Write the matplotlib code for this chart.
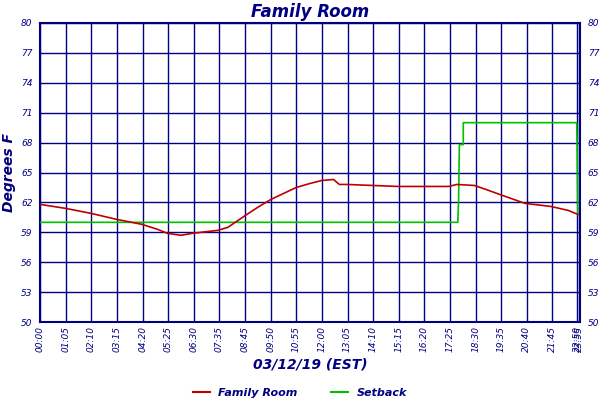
import matplotlib
matplotlib.use('Agg')
import matplotlib.pyplot as plt
from matplotlib.lines import Line2D

navy = '#000080'

# minutes since midnight
temp_t = [0, 65, 130, 195, 260, 300, 325, 360, 390, 455, 480, 525, 560, 590, 655, 690,
          720, 750, 765, 785, 850, 915, 980, 1045, 1065, 1110, 1140, 1175, 1240, 1305, 1350, 1375]
temp_v = [61.8, 61.4, 60.9, 60.3, 59.8, 59.3, 58.9, 58.7, 58.9, 59.2, 59.5, 60.7, 61.6, 62.3,
          63.5, 63.9, 64.2, 64.3, 63.8, 63.8, 63.7, 63.6, 63.6, 63.6, 63.8, 63.7, 63.3, 62.8,
          61.9, 61.6, 61.2, 60.8]

setback_t = [0, 1068, 1070, 1072, 1082, 1082, 1372, 1373, 1375]
setback_v = [60, 60, 62.3, 67.8, 67.8, 70, 70, 67.8, 60.8]

yticks = list(range(50, 81, 3))
xlabels = ['00:00', '01:05', '02:10', '03:15', '04:20', '05:25', '06:30', '07:35', '08:45',
           '09:50', '10:55', '12:00', '13:05', '14:10', '15:15', '16:20', '17:25', '18:30',
           '19:35', '20:40', '21:45', '22:50', '23:55']
xticks = [i * 65.5 for i in range(21)] + [1374, 1379]

fig = plt.figure(figsize=(6, 4), dpi=100)
ax = fig.add_axes([0.067, 0.195, 0.9, 0.7475])

ax.plot(setback_t, setback_v, color='#00c000', lw=1.2, zorder=3)
ax.plot(temp_t, temp_v, color='#c00000', lw=1.2, zorder=4)

ax.set_xlim(0, 1381)
ax.set_ylim(50, 80)
ax.set_yticks(yticks)
ax.set_xticks(xticks)
ax.set_xticklabels(xlabels, rotation=90, fontsize=6.5, style='italic', color=navy)
ax.set_yticklabels([str(v) for v in yticks], fontsize=6.5, style='italic', color=navy)
ax.tick_params(axis='y', which='both', left=False, right=False, labelright=True, pad=2)
ax.tick_params(axis='x', length=0, pad=3)
ax.grid(True, color=navy, lw=1)
for s in ax.spines.values():
    s.set_color(navy)
    s.set_linewidth(1.5)

ax.set_title('Family Room', fontsize=12, fontweight='bold', style='italic', color=navy, pad=4)
ax.set_ylabel('Degrees F', fontsize=10, fontweight='bold', style='italic', color=navy, labelpad=4)
ax.set_xlabel('03/12/19 (EST)', fontsize=10, fontweight='bold', style='italic', color=navy, labelpad=4)

handles = [Line2D([], [], color='#c00000', lw=1.5), Line2D([], [], color='#00c000', lw=1.5)]
fig.legend(handles, ['Family Room', 'Setback'], loc='lower center', ncol=2, frameon=False,
           bbox_to_anchor=(0.5, -0.02), prop={'size': 8, 'weight': 'bold', 'style': 'italic'},
           labelcolor=navy, handlelength=1.5, columnspacing=3)

fig.savefig('out.png', dpi=100)
